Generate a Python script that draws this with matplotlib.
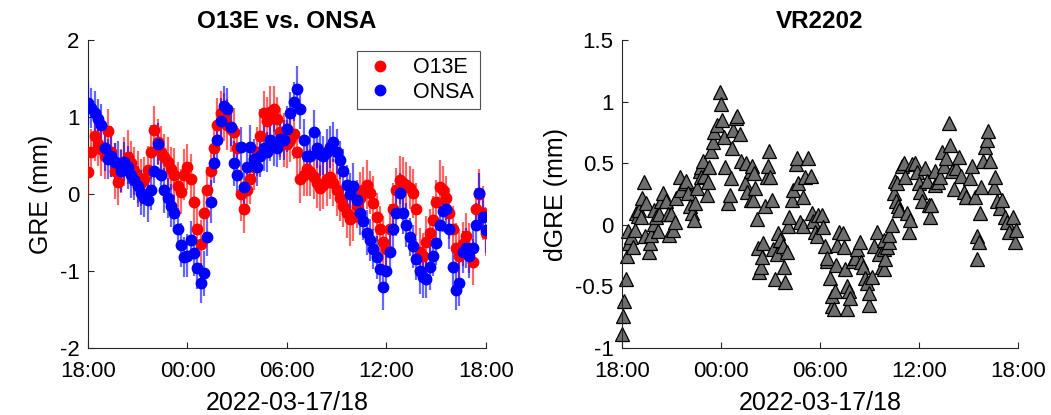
import numpy as np
import matplotlib
matplotlib.use("Agg")
import matplotlib.pyplot as plt
import matplotlib.dates as mdates
from matplotlib.lines import Line2D
from matplotlib.ticker import FormatStrFormatter

plt.rcParams['font.family'] = ['Liberation Sans', 'DejaVu Sans']
plt.rcParams['axes.unicode_minus'] = False

# sampling: start at 2022-03-17 18:00, one value every 12 minutes
t_start = np.datetime64('2022-03-17T18:00')
step_min = 12

o13e_gre = [0.28, 0.55, 0.75, 0.65, 0.58, 0.50, 0.82, 0.55, 0.30, 0.16,
            0.30, 0.42, 0.48, 0.40, 0.30, 0.22, 0.15, 0.20, 0.31, 0.55,
            0.83, 0.68, 0.55, 0.48, 0.42, 0.33, 0.25, 0.10, 0.03, 0.25,
            0.35, 0.20, -0.10, -0.45, -0.65, -0.25, 0.05, 0.30, 0.60, 0.90,
            1.05, 1.00, 0.90, 0.85, 0.80, 0.60, 0.00, -0.20, 0.05, 0.20,
            0.35, 0.55, 0.75, 1.05, 0.95, 1.07, 1.10, 0.98, 0.80, 0.70,
            0.65, 0.70, 0.78, 0.55, 0.20, 0.25, 0.32, 0.28, 0.22, 0.15,
            0.08, 0.12, 0.20, 0.22, 0.15, 0.05, -0.05, -0.15, -0.25, -0.32,
            -0.30, -0.15, -0.05, 0.05, 0.12, 0.02, -0.12, -0.30, -0.45, -0.62,
            -0.72, -0.45, -0.20, 0.05, 0.18, 0.15, 0.12, 0.08, 0.01, -0.20,
            -0.75, -0.80, -0.62, -0.50, -0.34, -0.10, 0.09, 0.05, -0.05, -0.25,
            -0.45, -0.70, -0.80, -0.65, -0.55, -0.70, -0.88, -0.20, 0.00, -0.25,
            -0.50]
o13e_err = [0.34, 0.30, 0.32, 0.28, 0.35, 0.31, 0.29, 0.33, 0.36, 0.30,
            0.28, 0.32, 0.35, 0.29, 0.31, 0.34, 0.30, 0.28, 0.32, 0.35,
            0.31, 0.29, 0.33, 0.30, 0.32, 0.28, 0.35, 0.31, 0.29, 0.33,
            0.30, 0.32, 0.35, 0.29, 0.31, 0.36, 0.30, 0.28, 0.32, 0.35,
            0.29, 0.31, 0.33, 0.30, 0.32, 0.28, 0.35, 0.31, 0.29, 0.33,
            0.30, 0.32, 0.35, 0.29, 0.31, 0.33, 0.30, 0.28, 0.32, 0.35,
            0.31, 0.29, 0.33, 0.30, 0.32, 0.28, 0.35, 0.31, 0.29, 0.33,
            0.30, 0.32, 0.35, 0.29, 0.31, 0.33, 0.30, 0.28, 0.32, 0.35,
            0.31, 0.29, 0.33, 0.30, 0.32, 0.28, 0.35, 0.31, 0.29, 0.33,
            0.30, 0.32, 0.35, 0.29, 0.31, 0.33, 0.30, 0.28, 0.32, 0.35,
            0.31, 0.29, 0.33, 0.30, 0.32, 0.28, 0.35, 0.31, 0.29, 0.33,
            0.30, 0.32, 0.35, 0.29, 0.31, 0.33, 0.30, 0.28, 0.32, 0.35,
            0.31]

onsa_gre = [1.18, 1.12, 1.05, 0.98, 0.90, 0.60, 0.45, 0.50, 0.42, 0.40,
            0.30, 0.42, 0.35, 0.25, 0.18, 0.10, 0.02, -0.05, -0.08, 0.05,
            0.30, 0.65, 0.25, 0.05, -0.05, -0.15, -0.25, -0.45, -0.66, -0.82,
            -0.80, -0.60, -0.77, -0.96, -1.16, -1.03, -0.56, -0.10, 0.40, 0.70,
            0.95, 1.15, 1.10, 0.87, 0.40, 0.25, 0.61, 0.09, 0.35, 0.61,
            0.45, 0.35, 0.50, 0.60, 0.55, 0.70, 0.65, 0.60, 0.72, 0.70,
            0.85, 1.05, 1.20, 1.37, 1.10, 0.70, 0.50, 0.50, 0.80, 0.60,
            0.52, 0.50, 0.55, 0.61, 0.68, 0.55, 0.44, 0.30, 0.12, 0.00,
            0.10, -0.08, -0.25, -0.35, -0.50, -0.60, -0.72, -0.82, -0.98, -1.21,
            -1.00, -0.75, -0.45, -0.25, 0.01, -0.25, -0.40, -0.56, -0.68, -0.85,
            -1.00, -1.08, -1.10, -0.95, -0.80, -0.64, -0.40, -0.22, -0.20, -0.45,
            -0.95, -1.25, -1.15, -0.75, -0.70, -0.80, -0.70, -0.40, 0.01, -0.30,
            -0.47]
onsa_err = [0.28, 0.26, 0.29, 0.25, 0.27, 0.30, 0.26, 0.28, 0.24, 0.29,
            0.27, 0.25, 0.28, 0.30, 0.26, 0.27, 0.29, 0.25, 0.28, 0.26,
            0.30, 0.27, 0.25, 0.29, 0.26, 0.28, 0.24, 0.27, 0.29, 0.26,
            0.28, 0.25, 0.30, 0.27, 0.26, 0.29, 0.25, 0.28, 0.26, 0.27,
            0.30, 0.26, 0.28, 0.25, 0.29, 0.27, 0.26, 0.28, 0.24, 0.29,
            0.27, 0.25, 0.28, 0.30, 0.26, 0.27, 0.29, 0.25, 0.28, 0.26,
            0.30, 0.27, 0.25, 0.29, 0.26, 0.28, 0.24, 0.27, 0.29, 0.26,
            0.28, 0.25, 0.30, 0.27, 0.26, 0.29, 0.25, 0.28, 0.26, 0.27,
            0.30, 0.26, 0.28, 0.25, 0.29, 0.27, 0.26, 0.28, 0.24, 0.29,
            0.27, 0.25, 0.28, 0.30, 0.26, 0.27, 0.29, 0.25, 0.28, 0.26,
            0.30, 0.27, 0.25, 0.29, 0.26, 0.28, 0.24, 0.27, 0.29, 0.26,
            0.28, 0.25, 0.30, 0.27, 0.26, 0.29, 0.25, 0.28, 0.26, 0.27,
            0.30]

# VR2202 dGRE, hours after 18:00 and value (mm)
vr_hours = [0.00, 0.05, 0.10, 0.25, 0.30, 0.35, 0.45, 0.55, 0.65, 0.80,
            0.85, 0.95, 1.05, 1.15, 1.20, 1.35, 1.40, 1.45, 1.65, 1.70,
            1.75, 1.95, 1.95, 2.05, 2.20, 2.25, 2.35, 2.50, 2.65, 2.80,
            2.85, 3.00, 3.10, 3.20, 3.30, 3.50, 3.60, 3.80, 3.90, 4.00,
            4.10, 4.25, 4.35, 4.45, 4.55, 4.75, 4.80, 4.80, 4.90, 5.00,
            5.15, 5.20, 5.30, 5.40, 5.50, 5.60, 5.75, 5.95, 6.00, 6.05,
            6.20, 6.25, 6.40, 6.55, 6.60, 6.65, 6.70, 6.90, 7.00, 7.15,
            7.20, 7.45, 7.50, 7.60, 7.80, 7.80, 7.90, 7.95, 8.00, 8.05,
            8.20, 8.25, 8.30, 8.40, 8.50, 8.55, 8.65, 8.80, 8.85, 8.90,
            9.00, 9.10, 9.15, 9.25, 9.40, 9.45, 9.60, 9.75, 9.80, 9.90,
            10.00, 10.05, 10.10, 10.30, 10.35, 10.55, 10.60, 10.65, 10.80, 10.95,
            10.95, 11.10, 11.30, 11.45, 11.50, 11.60, 11.70, 11.80, 11.85, 12.10,
            12.20, 12.30, 12.40, 12.45, 12.60, 12.70, 12.75, 12.85, 12.90, 12.95,
            13.05, 13.15, 13.40, 13.45, 13.50, 13.65, 13.65, 13.75, 13.80, 14.00,
            14.10, 14.25, 14.40, 14.50, 14.60, 14.70, 14.85, 14.95, 15.00, 15.15,
            15.30, 15.45, 15.60, 15.75, 15.85, 15.90, 15.90, 15.95, 16.05, 16.20,
            16.20, 16.35, 16.50, 16.55, 16.60, 16.65, 16.75, 16.80, 16.95, 17.10,
            17.15, 17.30, 17.40, 17.45, 17.60, 17.75, 17.90, 18.00, 18.05, 18.20,
            18.35, 18.50, 18.60, 18.65, 18.75, 18.95, 18.95, 19.15, 19.25, 19.40,
            19.50, 19.65, 19.80, 19.90, 20.00, 20.10, 20.25, 20.40, 20.55, 20.70,
            20.85, 21.10, 21.20, 21.40, 21.50, 21.50, 21.65, 21.70, 21.75, 21.90,
            22.00, 22.10, 22.20, 22.30, 22.55, 22.60, 22.70, 22.90, 23.05, 23.20,
            23.35, 23.45, 23.70, 23.80, 23.90]
vr_dgre = [-0.89, -0.74, -0.62, -0.44, -0.25, -0.05, -0.15, -0.10, -0.18, -0.04,
           0.10, 0.07, 0.12, 0.06, 0.22, 0.35, -0.09, 0.18, -0.22, -0.15,
           -0.08, 0.01, 0.12, 0.06, -0.05, 0.09, 0.19, 0.26, 0.19, 0.09,
           -0.08, 0.09, -0.04, 0.02, 0.22, 0.39, 0.28, 0.34, 0.36, 0.26,
           0.15, 0.10, 0.04, 0.18, 0.30, 0.44, 0.47, 0.39, 0.52, 0.40,
           0.24, 0.35, 0.47, 0.60, 0.67, 0.75, 0.81, 1.08, 0.98, 0.85,
           0.71, 0.47, 0.18, 0.24, 0.38, 0.62, 0.77, 0.87, 0.88, 0.74,
           0.52, 0.34, 0.50, 0.27, 0.44, 0.20, 0.48, 0.20, 0.42, 0.30,
           0.05, -0.19, -0.38, -0.34, -0.26, -0.15, 0.15, 0.39, 0.48, 0.60,
           0.39, 0.20, -0.20, -0.44, -0.24, -0.07, -0.12, -0.17, -0.34, -0.46,
           -0.22, -0.01, 0.06, 0.20, 0.28, 0.49, 0.54, 0.34, 0.02, 0.23,
           -0.01, 0.39, 0.54, 0.40, 0.10, 0.03, -0.06, -0.09, 0.08, 0.08,
           -0.02, -0.17, -0.29, -0.27, -0.43, -0.66, -0.58, -0.68, -0.54, -0.33,
           -0.16, -0.06, -0.07, -0.18, -0.36, -0.50, -0.68, -0.54, -0.59, -0.29,
           -0.27, -0.20, -0.14, -0.30, -0.34, -0.43, -0.47, -0.65, -0.55, -0.42,
           -0.17, -0.06, -0.24, -0.34, -0.20, -0.12, -0.36, -0.28, -0.18, -0.14,
           -0.08, 0.00, 0.26, 0.36, 0.19, 0.34, 0.15, 0.12, 0.48, 0.50,
           0.39, 0.10, -0.06, 0.04, 0.49, 0.50, 0.43, 0.34, 0.27, 0.19,
           0.46, 0.36, 0.16, 0.06, 0.16, 0.44, 0.32, 0.35, 0.39, 0.59,
           0.48, 0.54, 0.83, 0.65, 0.44, 0.29, 0.46, 0.55, 0.40, 0.27,
           0.23, 0.38, 0.48, 0.23, -0.09, -0.28, -0.14, 0.10, 0.31, 0.52,
           0.63, 0.69, 0.76, 0.52, 0.31, 0.39, 0.19, 0.14, 0.20, 0.06,
           0.02, -0.06, 0.06, -0.14, -0.04]

spine_col = '#262626'


def to_time(minutes):
    return t_start + np.array(minutes, dtype='timedelta64[m]')


def style_axes(ax):
    for side in ['top', 'right']:
        ax.spines[side].set_visible(False)
    for side in ['left', 'bottom']:
        ax.spines[side].set_color(spine_col)
        ax.spines[side].set_linewidth(0.8)
    ax.tick_params(direction='in', length=4, width=0.8, colors=spine_col,
                   labelsize=16, labelcolor='black')
    ax.tick_params(axis='x', pad=9)
    ax.tick_params(axis='y', pad=6)
    ax.set_xlim(t_start, t_start + np.timedelta64(24, 'h'))
    ax.xaxis.set_major_locator(mdates.HourLocator(byhour=[0, 6, 12, 18]))
    ax.xaxis.set_major_formatter(mdates.DateFormatter('%H:%M'))
    ax.set_xlabel('2022-03-17/18', fontsize=18, labelpad=7)


fig = plt.figure(figsize=(10.51, 4.15), dpi=100)
ax1 = fig.add_axes([0.0837, 0.1614, 0.3787, 0.742])
ax2 = fig.add_axes([0.5918, 0.1614, 0.3768, 0.742])

t_lr = to_time(np.arange(len(o13e_gre)) * step_min)

for vals, errs, col in [(o13e_gre, o13e_err, 'red'), (onsa_gre, onsa_err, 'blue')]:
    eb = ax1.errorbar(t_lr, vals, yerr=errs, fmt='o', color=col, ms=7.5,
                      elinewidth=1.6, capsize=0, zorder=3)
    eb[2][0].set_alpha(0.6)

style_axes(ax1)
ax1.set_ylim(-2, 2)
ax1.set_yticks([-2, -1, 0, 1, 2])
ax1.set_ylabel('GRE (mm)', fontsize=18, labelpad=5)
ax1.set_title('O13E vs. ONSA', fontsize=17.5, fontweight='bold', pad=9)
handles = [Line2D([], [], marker='o', ls='none', color='red', ms=7.5),
           Line2D([], [], marker='o', ls='none', color='blue', ms=7.5)]
leg = ax1.legend(handles, ['O13E', 'ONSA'], loc='upper right', fontsize=15.5,
                 frameon=True, fancybox=False, handletextpad=0.7,
                 borderpad=0.3, labelspacing=0.15, handlelength=1.6,
                 borderaxespad=0, bbox_to_anchor=(0.985, 0.965))
leg.get_frame().set_edgecolor(spine_col)
leg.get_frame().set_linewidth(0.8)

t_vr = to_time(np.round(np.array(vr_hours) * 60).astype(int))
ax2.plot(t_vr, vr_dgre, ls='none', marker='^', ms=9.5, mfc='#6e6e6e',
         mec='black', mew=0.9, clip_on=False)
style_axes(ax2)
ax2.set_ylim(-1, 1.5)
ax2.set_yticks([-1, -0.5, 0, 0.5, 1, 1.5])
ax2.yaxis.set_major_formatter(FormatStrFormatter('%g'))
ax2.set_ylabel('dGRE (mm)', fontsize=18, labelpad=5)
ax2.set_title('VR2202', fontsize=17.5, fontweight='bold', pad=9)

fig.savefig('out.png', dpi=100)
